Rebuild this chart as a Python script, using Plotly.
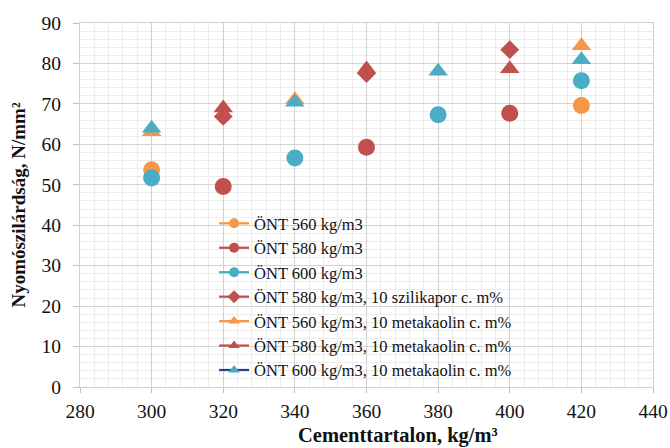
import plotly.graph_objects as go

# ---- data ----
ont560_x = [300, 420]
ont560_y = [53.7, 69.6]

ont580_x = [320, 360, 400]
ont580_y = [49.6, 59.3, 67.7]

ont600_x = [300, 340, 380, 420]
ont600_y = [51.7, 56.6, 67.3, 75.7]

szil580_x = [320, 360, 400]
szil580_y = [66.9, 77.5, 83.4]

meta560_x = [300, 340, 420]
meta560_y = [63.1, 71.0, 84.4]

meta580_x = [320, 360, 400]
meta580_y = [69.0, 78.6, 78.7]

meta600_x = [300, 340, 380, 420]
meta600_y = [64.0, 70.4, 78.1, 80.9]

names = [
    "ÖNT 560 kg/m3",
    "ÖNT 580 kg/m3",
    "ÖNT 600 kg/m3",
    "ÖNT 580 kg/m3, 10 szilikapor c. m%",
    "ÖNT 560 kg/m3, 10 metakaolin c. m%",
    "ÖNT 580 kg/m3, 10 metakaolin c. m%",
    "ÖNT 600 kg/m3, 10 metakaolin c. m%",
]

x_title = "Cementtartalon, kg/m³"
y_title = "Nyomószilárdság, N/mm²"

ORANGE = "#F79646"
RED = "#C0504D"
TEAL = "#4BACC6"
NAVY = "#24467A"

series = [
    (ont560_x, ont560_y, "circle", ORANGE, ORANGE),
    (ont580_x, ont580_y, "circle", RED, RED),
    (ont600_x, ont600_y, "circle", TEAL, TEAL),
    (szil580_x, szil580_y, "diamond", RED, RED),
    (meta560_x, meta560_y, "triangle-up", ORANGE, ORANGE),
    (meta580_x, meta580_y, "triangle-up", RED, RED),
    (meta600_x, meta600_y, "triangle-up", TEAL, NAVY),
]

sizes = {"circle": 17, "diamond": 14.5, "triangle-up": 17}

fig = go.Figure()

for i, (xs, ys, sym, col, lcol) in enumerate(series):
    fig.add_trace(go.Scatter(
        x=xs, y=ys, mode="markers", name=names[i],
        legendgroup=f"g{i}", showlegend=False,
        marker=dict(symbol=sym, size=sizes[sym], color=col, line=dict(width=0)),
    ))

# legend-only entries (line + marker keys as in the original)
for i, (xs, ys, sym, col, lcol) in enumerate(series):
    fig.add_trace(go.Scatter(
        x=[None], y=[None], mode="lines+markers", name=names[i],
        legendgroup=f"g{i}", showlegend=True,
        line=dict(color=lcol, width=2.25),
        marker=dict(symbol=sym, size=10, color=col, line=dict(width=0)),
    ))

FONT = "Liberation Serif, Times New Roman, serif"
GRID = "#d2d2d2"
MINOR = "#ececec"
TXT = "#111111"

fig.update_layout(
    width=670, height=448,
    margin=dict(l=80, r=16.5, t=23, b=61),
    paper_bgcolor="white", plot_bgcolor="white",
    font=dict(family=FONT, color=TXT),
    showlegend=True,
    legend=dict(
        x=0.234, xanchor="left", y=0.497, yanchor="top",
        bgcolor="rgba(0,0,0,0)", borderwidth=0,
        font=dict(family=FONT, size=16.5, color=TXT),
        itemwidth=30, tracegroupgap=0,
    ),
    xaxis=dict(
        range=[280, 440], dtick=20, tick0=280,
        showgrid=True, gridcolor=GRID, gridwidth=1,
        minor=dict(dtick=4, showgrid=True, gridcolor=MINOR, gridwidth=1),
        showline=True, linecolor="#d0d0d0", linewidth=1, mirror=True,
        ticks="outside", ticklen=5, tickcolor="#bfbfbf",
        ticklabelstandoff=2,
        tickfont=dict(family=FONT, size=19.5, color=TXT),
        zeroline=False, automargin=False,
    ),
    yaxis=dict(
        range=[0, 90], dtick=10, tick0=0,
        showgrid=True, gridcolor=GRID, gridwidth=1,
        minor=dict(dtick=2, showgrid=True, gridcolor=MINOR, gridwidth=1),
        showline=True, linecolor="#d0d0d0", linewidth=1, mirror=True,
        ticks="outside", ticklen=6, tickcolor="#bfbfbf",
        ticklabelstandoff=8,
        tickfont=dict(family=FONT, size=19.5, color=TXT),
        zeroline=False, automargin=False,
        title=dict(text="<b>" + y_title + "</b>",
                   font=dict(family=FONT, size=19, color=TXT), standoff=10),
    ),
    annotations=[dict(
        text="<b>" + x_title + "</b>", xref="paper", yref="paper",
        x=0.555, y=-0.132, xanchor="center", yanchor="middle",
        showarrow=False, font=dict(family=FONT, size=20.5, color=TXT),
    )],
)

fig.write_html(
    "out.html",
    config={"displayModeBar": False},
    post_script="document.body.style.margin='0';document.body.style.overflow='hidden';",
)
